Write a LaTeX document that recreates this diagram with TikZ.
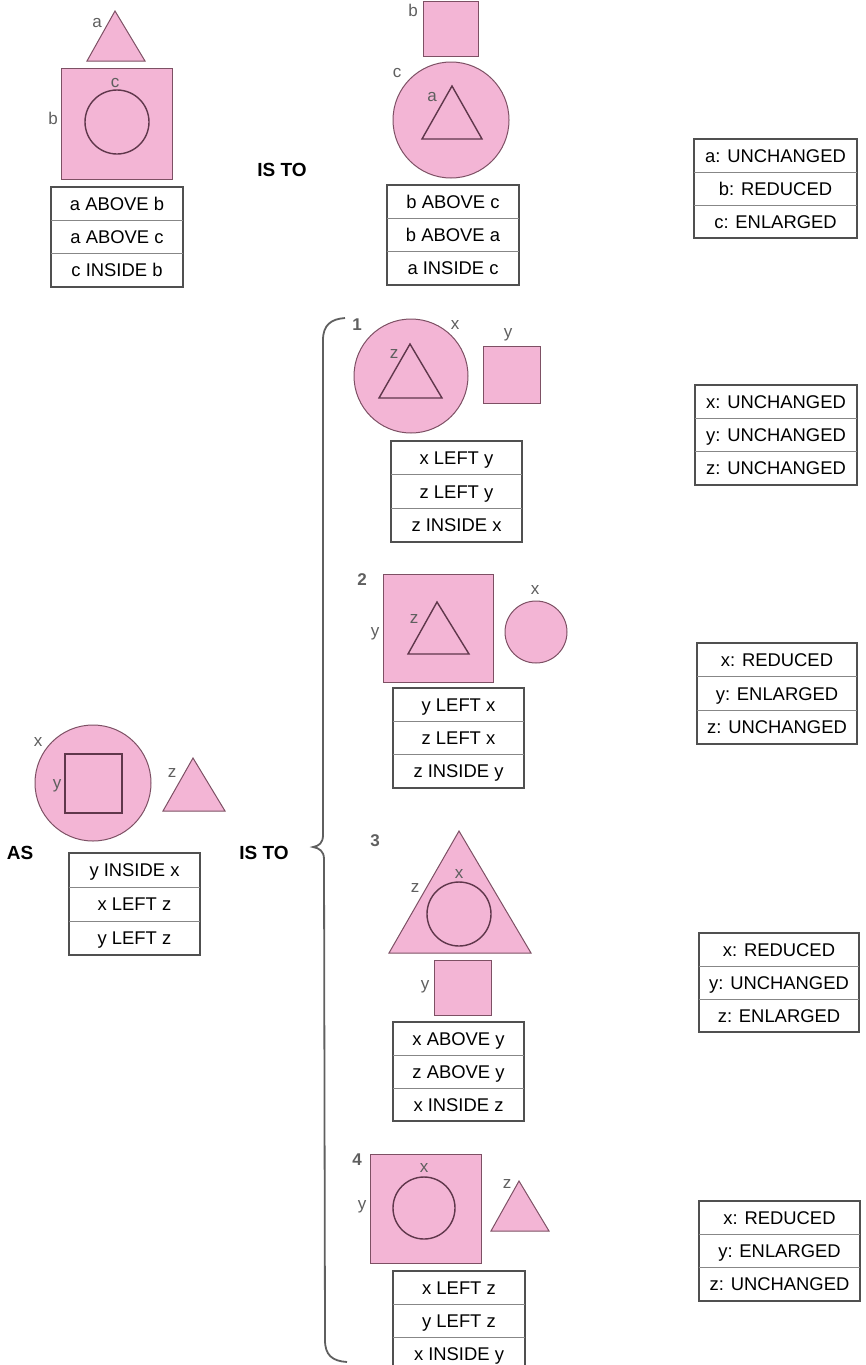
\documentclass[tikz,border=0pt]{standalone}
\usepackage{fontspec}
\setmainfont{Liberation Sans}

\definecolor{shapepink}{RGB}{243,181,213}
\definecolor{shapeline}{RGB}{125,80,100}
\definecolor{innerline}{RGB}{95,55,75}
\definecolor{tabline}{RGB}{80,80,80}
\definecolor{rowline}{RGB}{135,135,135}
\definecolor{labelgray}{RGB}{95,95,95}

\tikzset{
  pinkshape/.style={fill=shapepink, draw=shapeline, line width=0.5pt},
  innershape/.style={draw=innerline, line width=0.7pt},
  shapelabel/.style={text=labelgray, font=\fontsize{8.5}{9}\selectfont, inner sep=0pt,
    text height=4.6pt, text depth=0pt},
  rowtext/.style={font=\fontsize{9.2}{10}\selectfont, inner sep=0pt, text=black,
    text height=6.6pt, text depth=0pt},
  tabframe/.style={draw=tabline, line width=0.6pt},
  tabrule/.style={draw=rowline, line width=0.5pt},
  keyword/.style={font=\bfseries\fontsize{9.5}{10}\selectfont, inner sep=0pt},
  itemnum/.style={font=\bfseries\fontsize{8.5}{9}\selectfont, text=labelgray, inner sep=0pt},
  bracestyle/.style={draw=labelgray, line width=0.9pt},
}

% three-row relation table: name, left, top, right, bottom, row texts
\newcommand\reltab[8]{%
  \pgfmathsetmacro\rtrh{(#5-#3)/3}%
  \draw[tabframe] (#2,#3) rectangle (#4,#5);
  \draw[tabrule] (#2,{#3+\rtrh}) -- (#4,{#3+\rtrh});
  \draw[tabrule] (#2,{#3+2*\rtrh}) -- (#4,{#3+2*\rtrh});
  \node[rowtext] (#1-1) at ({(#2+#4)/2},{#3+0.5*\rtrh}) {#6};
  \node[rowtext] (#1-2) at ({(#2+#4)/2},{#3+1.5*\rtrh}) {#7};
  \node[rowtext] (#1-3) at ({(#2+#4)/2},{#3+2.5*\rtrh}) {#8};
}

\begin{document}
\begin{tikzpicture}[x=0.5pt, y=-0.5pt]
\useasboundingbox (0,0) rectangle (866,1365);

% ---------- first pair: a, b, c ----------
\fill[pinkshape] (115,11) -- (87,61) -- (145,61) -- cycle;
\node[shapelabel] (la1) at (97,23) {a};
\fill[pinkshape] (61,68) rectangle (172,179);
\node[shapelabel] (lb1) at (53,120) {b};
\draw[innershape] (117,122) circle[radius=32];
\node[shapelabel] (lc1) at (115,83) {c};
\reltab{t1}{51}{187}{183}{287}{a ABOVE b}{a ABOVE c}{c INSIDE b}

\node[keyword] (isto1) at (282,170) {IS TO};

\fill[pinkshape] (423,1) rectangle (478,56);
\node[shapelabel] (lb2) at (413,12) {b};
\fill[pinkshape] (451,120) circle[radius=58];
\node[shapelabel] (lc2) at (397,73) {c};
\draw[innershape] (452,86) -- (422,139) -- (482,139) -- cycle;
\node[shapelabel] (la2) at (432,97) {a};
\reltab{t2}{387}{185}{519}{285}{b ABOVE c}{b ABOVE a}{a INSIDE c}

\reltab{r0}{694}{139}{857}{238}{a: UNCHANGED}{b: REDUCED}{c: ENLARGED}

% ---------- second pair: x, y, z ----------
\fill[pinkshape] (93,783) circle[radius=58];
\node[shapelabel] (lx0) at (38,742) {x};
\draw[innershape] (65,754) rectangle (122,813);
\node[shapelabel] (ly0) at (57,784) {y};
\fill[pinkshape] (193,758) -- (163,811) -- (225,811) -- cycle;
\node[shapelabel] (lz0) at (172,773) {z};
\node[keyword] (as) at (20,853) {AS};
\node[keyword] (isto2) at (264,853) {IS TO};
\reltab{t0}{69}{853}{200}{955}{y INSIDE x}{x LEFT z}{y LEFT z}

% brace grouping the four answers
\draw[bracestyle] (345,318) .. controls (331,319) and (323,325) .. (323,340)
  -- (323,835) .. controls (323,843) and (319,846) .. (313,847)
  .. controls (319,848) and (324,851) .. (324,859)
  -- (325,1340) .. controls (325,1355) and (332,1361) .. (347,1362);

% answer 1
\node[itemnum] (n1) at (357,325) {1};
\fill[pinkshape] (411,376) circle[radius=57];
\node[shapelabel] (lx1) at (455,325) {x};
\draw[innershape] (410,344) -- (379,398) -- (442,398) -- cycle;
\node[shapelabel] (lz1) at (394,354) {z};
\fill[pinkshape] (483,346) rectangle (540,403);
\node[shapelabel] (ly1) at (508,333) {y};
\reltab{a1}{391}{441}{522}{542}{x LEFT y}{z LEFT y}{z INSIDE x}
\reltab{r1}{695}{385}{857}{485}{x: UNCHANGED}{y: UNCHANGED}{z: UNCHANGED}

% answer 2
\node[itemnum] (n2) at (362,580) {2};
\fill[pinkshape] (383,574) rectangle (493,682);
\node[shapelabel] (ly2) at (375,632) {y};
\draw[innershape] (437,602) -- (408,654) -- (469,654) -- cycle;
\node[shapelabel] (lz2) at (414,619) {z};
\fill[pinkshape] (536,632) circle[radius=31];
\node[shapelabel] (lx2) at (535,590) {x};
\reltab{a2}{393}{688}{524}{788}{y LEFT x}{z LEFT x}{z INSIDE y}
\reltab{r2}{697}{643}{857}{744}{x: REDUCED}{y: ENLARGED}{z: UNCHANGED}

% answer 3
\node[itemnum] (n3) at (375,841) {3};
\fill[pinkshape] (459,831) -- (389,953) -- (531,953) -- cycle;
\node[shapelabel] (lz3) at (415,888) {z};
\draw[innershape] (459,914) circle[radius=32];
\node[shapelabel] (lx3) at (459,874) {x};
\fill[pinkshape] (434,960) rectangle (491,1015);
\node[shapelabel] (ly3) at (425,985) {y};
\reltab{a3}{393}{1022}{524}{1121}{x ABOVE y}{z ABOVE y}{x INSIDE z}
\reltab{r3}{699}{933}{859}{1032}{x: REDUCED}{y: UNCHANGED}{z: ENLARGED}

% answer 4
\node[itemnum] (n4) at (357,1160) {4};
\fill[pinkshape] (370,1154) rectangle (481,1263);
\node[shapelabel] (ly4) at (362,1205) {y};
\draw[innershape] (424,1208) circle[radius=31];
\node[shapelabel] (lx4) at (424,1168) {x};
\fill[pinkshape] (519,1181) -- (491,1231) -- (549,1231) -- cycle;
\node[shapelabel] (lz4) at (507,1184) {z};
\reltab{a4}{393}{1271}{525}{1370}{x LEFT z}{y LEFT z}{x INSIDE y}
\reltab{r4}{699}{1201}{860}{1301}{x: REDUCED}{y: ENLARGED}{z: UNCHANGED}
\end{tikzpicture}
\end{document}
